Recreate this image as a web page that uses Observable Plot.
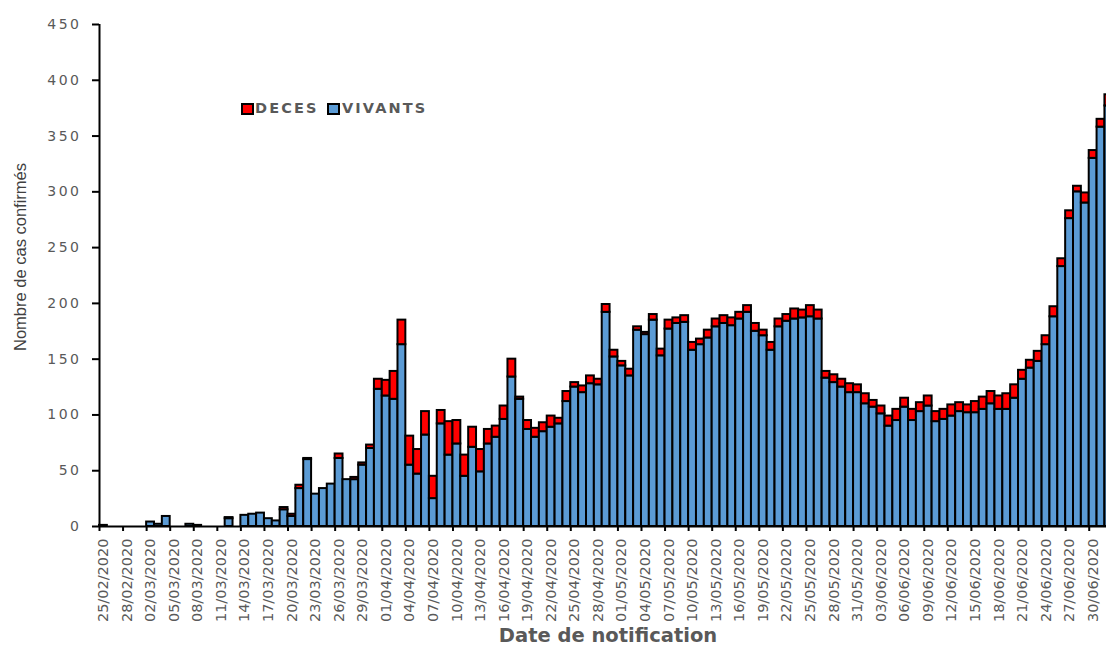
<!DOCTYPE html>
<html><head><meta charset="utf-8">
<script src="https://cdn.jsdelivr.net/npm/d3@7"></script>
<script src="https://cdn.jsdelivr.net/npm/@observablehq/plot@0.6"></script>
<style>
body{margin:0;background:#fff;}
#wrap{position:relative;width:1106px;height:649px;overflow:hidden;background:#fff;}
#wrap svg{position:absolute;left:0;top:0;}
g[aria-label="y-axis tick label"] text{letter-spacing:2.5px;}
.sw{position:absolute;width:9px;height:8px;border:2px solid #000;}
.lt{position:absolute;height:20px;line-height:20px;font-family:"DejaVu Sans",sans-serif;font-weight:bold;font-size:14.5px;color:#595959;white-space:nowrap;letter-spacing:2.1px;}
#ytitle{position:absolute;left:19.5px;top:257px;transform:translate(-50%,-50%) rotate(-90deg);font-family:"Liberation Sans",sans-serif;font-size:16.5px;color:#404040;white-space:nowrap;line-height:1;}
#xtitle{position:absolute;left:608px;top:626px;transform:translateX(-50%);font-family:"DejaVu Sans",sans-serif;font-weight:bold;font-size:19.5px;line-height:20px;height:20px;color:#595959;white-space:nowrap;}
</style></head><body>
<div id="wrap"></div>
<script>
const dates = [
"25/02/2020","26/02/2020","27/02/2020","28/02/2020","29/02/2020",
"01/03/2020","02/03/2020","03/03/2020","04/03/2020","05/03/2020","06/03/2020","07/03/2020","08/03/2020","09/03/2020","10/03/2020",
"11/03/2020","12/03/2020","13/03/2020","14/03/2020","15/03/2020","16/03/2020","17/03/2020","18/03/2020","19/03/2020","20/03/2020",
"21/03/2020","22/03/2020","23/03/2020","24/03/2020","25/03/2020","26/03/2020","27/03/2020","28/03/2020","29/03/2020","30/03/2020","31/03/2020",
"01/04/2020","02/04/2020","03/04/2020","04/04/2020","05/04/2020","06/04/2020","07/04/2020","08/04/2020","09/04/2020","10/04/2020",
"11/04/2020","12/04/2020","13/04/2020","14/04/2020","15/04/2020","16/04/2020","17/04/2020","18/04/2020","19/04/2020","20/04/2020",
"21/04/2020","22/04/2020","23/04/2020","24/04/2020","25/04/2020","26/04/2020","27/04/2020","28/04/2020","29/04/2020","30/04/2020",
"01/05/2020","02/05/2020","03/05/2020","04/05/2020","05/05/2020","06/05/2020","07/05/2020","08/05/2020","09/05/2020","10/05/2020",
"11/05/2020","12/05/2020","13/05/2020","14/05/2020","15/05/2020","16/05/2020","17/05/2020","18/05/2020","19/05/2020","20/05/2020",
"21/05/2020","22/05/2020","23/05/2020","24/05/2020","25/05/2020","26/05/2020","27/05/2020","28/05/2020","29/05/2020","30/05/2020","31/05/2020",
"01/06/2020","02/06/2020","03/06/2020","04/06/2020","05/06/2020","06/06/2020","07/06/2020","08/06/2020","09/06/2020","10/06/2020",
"11/06/2020","12/06/2020","13/06/2020","14/06/2020","15/06/2020","16/06/2020","17/06/2020","18/06/2020","19/06/2020","20/06/2020",
"21/06/2020","22/06/2020","23/06/2020","24/06/2020","25/06/2020","26/06/2020","27/06/2020","28/06/2020","29/06/2020","30/06/2020",
"01/07/2020","02/07/2020"
];
const vivants = [
1,0,0,0,0,0,4,2,9,0,
0,2,1,0,0,0,7,0,10,11,
12,7,5,15,9,34,60,29,34,38,
61,42,42,55,70,123,117,114,163,55,
47,82,25,92,64,74,45,71,49,74,
80,96,134,114,87,80,85,89,92,112,
125,120,128,127,192,152,144,135,176,172,
185,153,177,182,183,158,163,169,179,182,
180,186,192,175,171,158,179,184,186,187,
188,186,133,129,125,120,120,110,107,101,
90,95,107,95,103,108,94,96,99,103,
102,102,105,110,105,105,115,132,142,148,
163,188,233,276,300,290,330,358,377
];
const deces = [
0,0,0,0,0,0,0,0,0,0,
0,0,0,0,0,0,1,0,0,0,
0,0,0,2,2,3,1,0,0,0,
4,0,2,2,3,9,14,25,22,26,
22,21,20,12,30,21,19,18,20,13,
10,12,16,2,8,8,8,10,5,9,
4,6,7,5,7,6,4,6,3,2,
5,6,8,5,6,7,5,7,7,7,
7,6,6,7,5,7,7,6,9,7,
10,8,6,7,7,8,7,9,6,7,
9,10,8,10,8,9,9,9,10,8,
7,10,11,11,12,14,12,8,7,9,
8,9,7,7,5,9,7,7,10
];
const tickLabels = ["25/02/2020","28/02/2020","02/03/2020","05/03/2020","08/03/2020","11/03/2020","14/03/2020","17/03/2020","20/03/2020","23/03/2020","26/03/2020","29/03/2020","01/04/2020","04/04/2020","07/04/2020","10/04/2020","13/04/2020","16/04/2020","19/04/2020","22/04/2020","25/04/2020","28/04/2020","01/05/2020","04/05/2020","07/05/2020","10/05/2020","13/05/2020","16/05/2020","19/05/2020","22/05/2020","25/05/2020","28/05/2020","31/05/2020","03/06/2020","06/06/2020","09/06/2020","12/06/2020","15/06/2020","18/06/2020","21/06/2020","24/06/2020","27/06/2020","30/06/2020"];
const yTicks = [0,50,100,150,200,250,300,350,400,450];
const series = ["VIVANTS","DECES"];
const colors = ["#5B9BD5","#FF0000"];

const rows = [];
dates.forEach((d,i)=>{
  if (vivants[i] > 0) rows.push({i, serie:"VIVANTS", y1:0, y2:vivants[i]});
  if (deces[i] > 0) rows.push({i, serie:"DECES", y1:vivants[i], y2:vivants[i]+deces[i]});
});
const tickIdx = tickLabels.map(t => dates.indexOf(t));

const chart = Plot.plot({
  width:1106, height:649,
  marginLeft:99, marginRight:0, marginTop:24, marginBottom:123,
  style:{fontFamily:"DejaVu Sans", fontSize:"14px", color:"#595959", background:"transparent"},
  x:{type:"linear", domain:[0,128.2], axis:null},
  y:{domain:[0,450], axis:null},
  color:{domain:series, range:colors},
  marks:[
    Plot.rect(rows, {x1:"i", x2:d=>d.i+1, y1:"y1", y2:"y2", fill:"serie", stroke:"#000", strokeWidth:2}),
    Plot.ruleY([0], {stroke:"#000", strokeWidth:2}),
    Plot.ruleX([0], {stroke:"#000", strokeWidth:2}),
    Plot.axisY(yTicks, {tickSize:7, stroke:"#000", strokeWidth:2, tickFormat:()=>"", label:null}),
    Plot.axisY(yTicks, {tickSize:0, tickPadding:18, fontSize:14, fontFamily:"DejaVu Sans", color:"#595959", label:null}),
    Plot.axisX(tickIdx, {tickSize:5, stroke:"#000", strokeWidth:2, tickFormat:()=>"", label:null}),
    Plot.axisX(tickIdx.map(i=>i+0.5), {tickSize:0, tickPadding:12, tickRotate:-90, tickFormat:v=>dates[Math.round(v-0.5)], fontSize:14.5, fontFamily:"DejaVu Sans", color:"#595959", label:null})
  ]
});
const wrap = document.getElementById("wrap");
wrap.appendChild(chart);

function el(tag, cls, id, text, styleObj){
  const e = document.createElement(tag);
  if (cls) e.className = cls;
  if (id) e.id = id;
  if (text) e.textContent = text;
  Object.assign(e.style, styleObj||{});
  wrap.appendChild(e);
  return e;
}
el("div", null, "ytitle", "Nombre de cas confirmés");
el("div", null, "xtitle", "Date de notification");
el("div", "sw", null, "", {left:"241px", top:"103px", background:colors[1]});
el("div", "lt", null, series[1], {left:"255px", top:"98px"});
el("div", "sw", null, "", {left:"327px", top:"103px", background:colors[0]});
el("div", "lt", null, series[0], {left:"342px", top:"98px"});
</script>
</body></html>
